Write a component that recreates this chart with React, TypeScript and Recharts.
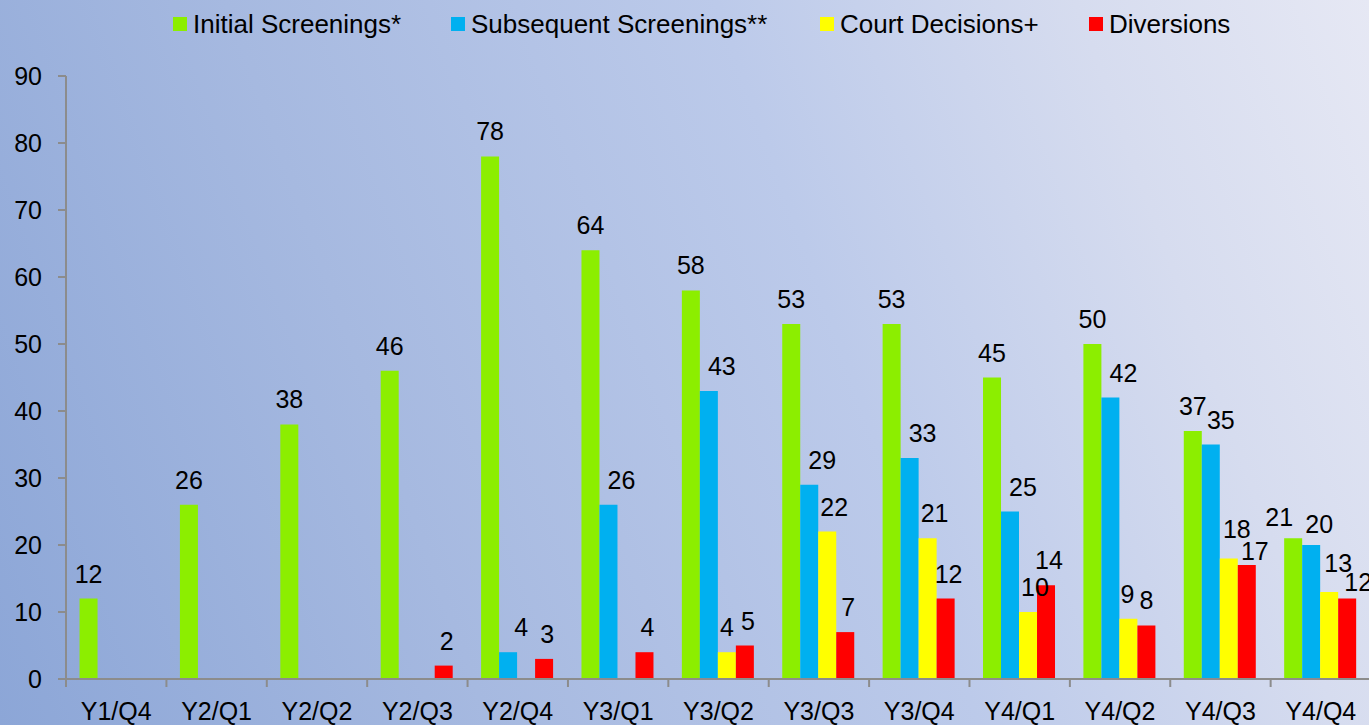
import React from 'react';
import { BarChart, Bar, XAxis, YAxis, Legend, LabelList } from 'recharts';

const categories = ['Y1/Q4', 'Y2/Q1', 'Y2/Q2', 'Y2/Q3', 'Y2/Q4', 'Y3/Q1', 'Y3/Q2', 'Y3/Q3', 'Y3/Q4', 'Y4/Q1', 'Y4/Q2', 'Y4/Q3', 'Y4/Q4'];
const initialScreenings = [12, 26, 38, 46, 78, 64, 58, 53, 53, 45, 50, 37, 21];
const subsequentScreenings = [null, null, null, null, 4, 26, 43, 29, 33, 25, 42, 35, 20];
const courtDecisions = [null, null, null, null, null, null, 4, 22, 21, 10, 9, 18, 13];
const diversions = [null, null, null, 2, 3, 4, 5, 7, 12, 14, 8, 17, 12];
const yTicks = [0, 10, 20, 30, 40, 50, 60, 70, 80, 90];

const seriesNames = ['Initial Screenings*', 'Subsequent Screenings**', 'Court Decisions+', 'Diversions'];
const seriesKeys = ['initial', 'subsequent', 'court', 'diversions'];
const seriesColors = ['#8cee00', '#00b0f0', '#ffff00', '#ff0000'];

const data = categories.map((c, i) => ({
  category: c,
  initial: initialScreenings[i],
  subsequent: subsequentScreenings[i],
  court: courtDecisions[i],
  diversions: diversions[i],
}));

const FONT = '"Liberation Sans", Arial, sans-serif';
const AXIS = '#8c8c8c';
const PLOT_LEFT = 66;
const BAND = 100.33;

const legendLefts = [173, 451, 820, 1089];
const labelDx = [0, 13, 7, 3];
// style-only nudges for crowded labels (dx, dy), keyed by series index and category
const labelNudge: Record<string, [number, number]> = {
  '0:Y4/Q4': [-14, 4],
  '1:Y4/Q3': [-3, 0],
  '1:Y4/Q4': [-5, 4],
  '2:Y4/Q3': [1, -4],
  '2:Y4/Q4': [2, -4],
  '3:Y4/Q3': [5, 11],
  '3:Y4/Q4': [8, 8],
  '2:Y3/Q2': [-7, 0],
  '2:Y4/Q2': [-8, 0],
  '3:Y4/Q2': [-3, 0],
};

const renderLegend = () => (
  <div style={{ position: 'relative', height: 66, width: 1369 }}>
    {seriesNames.map((name, i) => (
      <div
        key={name}
        style={{
          position: 'absolute',
          left: legendLefts[i],
          top: 0,
          display: 'flex',
          alignItems: 'center',
          height: 28,
          fontFamily: FONT,
          fontSize: 26,
          color: '#000',
          whiteSpace: 'nowrap',
        }}
      >
        <span style={{ display: 'inline-block', width: 14, height: 14, background: seriesColors[i], marginRight: 6 }} />
        <span>{name}</span>
      </div>
    ))}
  </div>
);

const makeLabel = (si: number) => (props: any) => {
  const { x, y, width, value } = props;
  if (value === null || value === undefined) return null;
  const cx = Number(x) + Number(width) / 2;
  const ci = Math.floor((cx - PLOT_LEFT) / BAND);
  const cat = categories[ci];
  const [ndx, ndy] = labelNudge[`${si}:${cat}`] || [0, 0];
  return (
    <text
      x={cx + labelDx[si] + ndx}
      y={Number(y) - 16 + ndy}
      textAnchor="middle"
      fontFamily={FONT}
      fontSize={25}
      fill="#000"
    >
      {value}
    </text>
  );
};

const CategoryTick = (props: any) => {
  const { x, payload } = props;
  const axisY = 679;
  return (
    <g>
      <line x1={x - BAND / 2} x2={x - BAND / 2} y1={axisY} y2={axisY + 8} stroke={AXIS} strokeWidth={2} />
      <text x={x} y={axisY + 23} dy="0.71em" textAnchor="middle" fontFamily={FONT} fontSize={25} fill="#000">
        {payload.value}
      </text>
    </g>
  );
};

export default function App() {
  return (
    <div
      style={{
        position: 'fixed',
        left: 0,
        top: 0,
        width: 1369,
        height: 725,
        overflow: 'hidden',
        background: 'linear-gradient(70deg, #8ca6d7 0%, #a6b9e0 30%, #bccaea 60%, #d6dcef 82%, #e6e8f4 100%)',
      }}
    >
      <BarChart
        width={1371}
        height={725}
        data={data}
        margin={{ top: 10, right: 0, left: 0, bottom: 0 }}
        barCategoryGap="13.5%"
        barGap={0}
      >
        <Legend verticalAlign="top" align="left" content={renderLegend} wrapperStyle={{ left: 0, top: 10 }} />
        <XAxis
          dataKey="category"
          interval={0}
          tickLine={false}
          axisLine={{ stroke: AXIS, strokeWidth: 2 }}
          tickSize={8}
          tickMargin={15}
          height={46}
          tick={<CategoryTick />}
        />
        <YAxis
          width={66}
          domain={[0, 90]}
          ticks={yTicks}
          interval={0}
          tickSize={8}
          tickMargin={16}
          axisLine={{ stroke: AXIS, strokeWidth: 2 }}
          tickLine={{ stroke: AXIS, strokeWidth: 2 }}
          tick={{ fontFamily: FONT, fontSize: 25, fill: '#000' }}
        />
        {seriesKeys.map((k, i) => (
          <Bar key={k} dataKey={k} name={seriesNames[i]} fill={seriesColors[i]} isAnimationActive={false}>
            <LabelList dataKey={k} content={makeLabel(i)} />
          </Bar>
        ))}
      </BarChart>
    </div>
  );
}
